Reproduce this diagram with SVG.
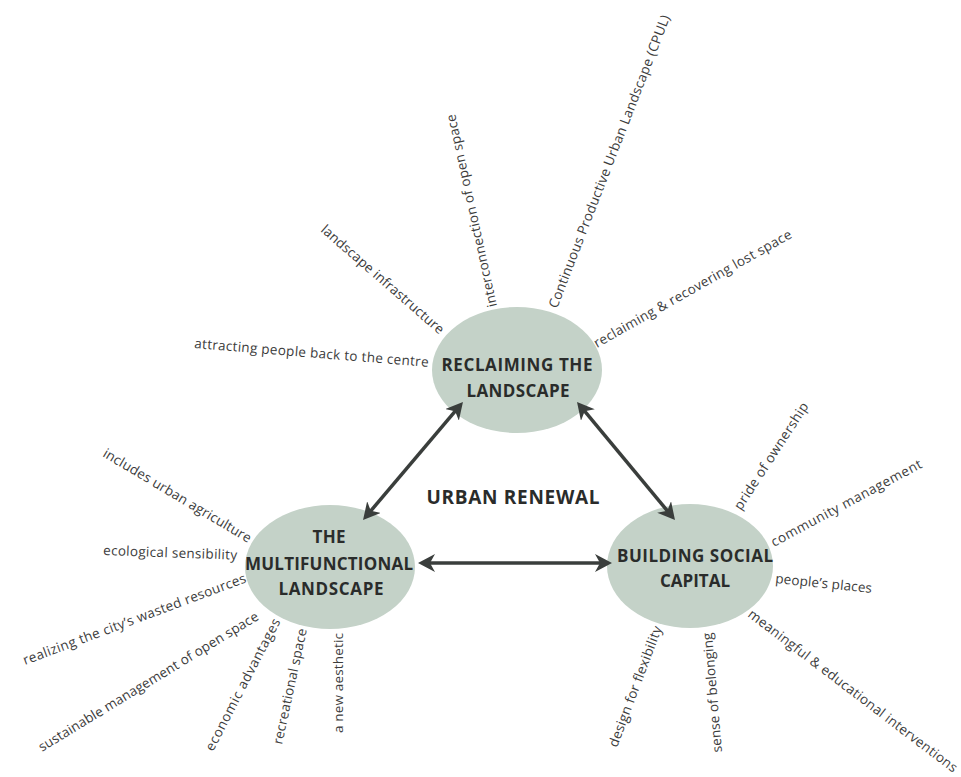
<svg xmlns="http://www.w3.org/2000/svg" width="961" height="777" viewBox="0 0 961 777">
<style>
.node ellipse{fill:#c4d2c8;}
.title{font-family:"Open Sans","Noto Sans",sans-serif;font-weight:700;font-size:17px;fill:#2a2c2b;text-anchor:middle;}
.lbl{font-family:"Open Sans","Noto Sans",sans-serif;font-size:13.5px;fill:#3c3c3c;}
.conn{stroke:#3a3e3c;stroke-width:3.5;fill:none;marker-start:url(#ah);marker-end:url(#ah);}
</style>
<defs>
<marker id="ah" markerUnits="userSpaceOnUse" viewBox="0 0 17 18" markerWidth="17" markerHeight="18" refX="7" refY="9" orient="auto-start-reverse">
<path d="M17,9 L0,0 L5,9 L0,18 Z" fill="#3a3e3c"/>
</marker>
</defs>
<rect width="961" height="777" fill="#ffffff"/>

<g id="node-reclaiming" class="node">
<ellipse cx="517" cy="370" rx="85" ry="63"/>
<text class="title" x="517" y="371" textLength="151">RECLAIMING THE</text>
<text class="title" x="518" y="397" textLength="103">LANDSCAPE</text>
</g>

<g id="node-multifunctional" class="node">
<ellipse cx="330" cy="567" rx="85" ry="62"/>
<text class="title" x="329" y="543" textLength="33">THE</text>
<text class="title" x="329" y="570" textLength="168">MULTIFUNCTIONAL</text>
<text class="title" x="331" y="595" textLength="105">LANDSCAPE</text>
</g>

<g id="node-social" class="node">
<ellipse cx="690" cy="566" rx="83" ry="62"/>
<text class="title" x="695" y="562" textLength="156">BUILDING SOCIAL</text>
<text class="title" x="695" y="587" textLength="70">CAPITAL</text>
</g>

<g id="center-label">
<text class="title" x="513" y="504" style="font-size:19px" textLength="173">URBAN RENEWAL</text>
</g>

<g id="connectors">
<line class="conn" x1="369.5" y1="512.4" x2="456.5" y2="409.6"/>
<line class="conn" x1="583.4" y1="409.7" x2="668.6" y2="512.3"/>
<line class="conn" x1="428" y1="563" x2="602" y2="563"/>
</g>

<g id="labels-reclaiming">
<text class="lbl" transform="translate(194,348) rotate(4.6)" textLength="235">attracting people back to the centre</text>
<text class="lbl" transform="translate(320,231) rotate(41)" textLength="158">landscape infrastructure</text>
<text class="lbl" transform="translate(497,306) rotate(-102.3)" textLength="197">interconnection of open space</text>
<text class="lbl" transform="translate(557,309) rotate(-68.8)" textLength="313">Continuous Productive Urban Landscape (CPUL)</text>
<text class="lbl" transform="translate(597,348) rotate(-29.5)" textLength="225">reclaiming &amp; recovering lost space</text>
</g>

<g id="labels-multifunctional">
<text class="lbl" transform="translate(102,456) rotate(30.8)" textLength="170">includes urban agriculture</text>
<text class="lbl" transform="translate(103,555) rotate(2)" textLength="134">ecological sensibility</text>
<text class="lbl" transform="translate(25,665) rotate(-20.5)" textLength="237">realizing the city’s wasted resources</text>
<text class="lbl" transform="translate(42,752) rotate(-31.4)" textLength="255">sustainable management of open space</text>
<text class="lbl" transform="translate(213,752) rotate(-62.6)" textLength="147">economic advantages</text>
<text class="lbl" transform="translate(282,745) rotate(-77.8)" textLength="118">recreational space</text>
<text class="lbl" transform="translate(343,733) rotate(-90)" textLength="100">a new aesthetic</text>
</g>

<g id="labels-social">
<text class="lbl" transform="translate(741,511) rotate(-57)" textLength="125">pride of ownership</text>
<text class="lbl" transform="translate(774,547) rotate(-28.2)" textLength="169">community management</text>
<text class="lbl" transform="translate(775,583) rotate(5.9)" textLength="97">people’s places</text>
<text class="lbl" transform="translate(747,616) rotate(37.3)" textLength="259">meaningful &amp; educational interventions</text>
<text class="lbl" transform="translate(722,752) rotate(-94.8)" textLength="120">sense of belonging</text>
<text class="lbl" transform="translate(617,748) rotate(-69.4)" textLength="128">design for flexibility</text>
</g>
</svg>
